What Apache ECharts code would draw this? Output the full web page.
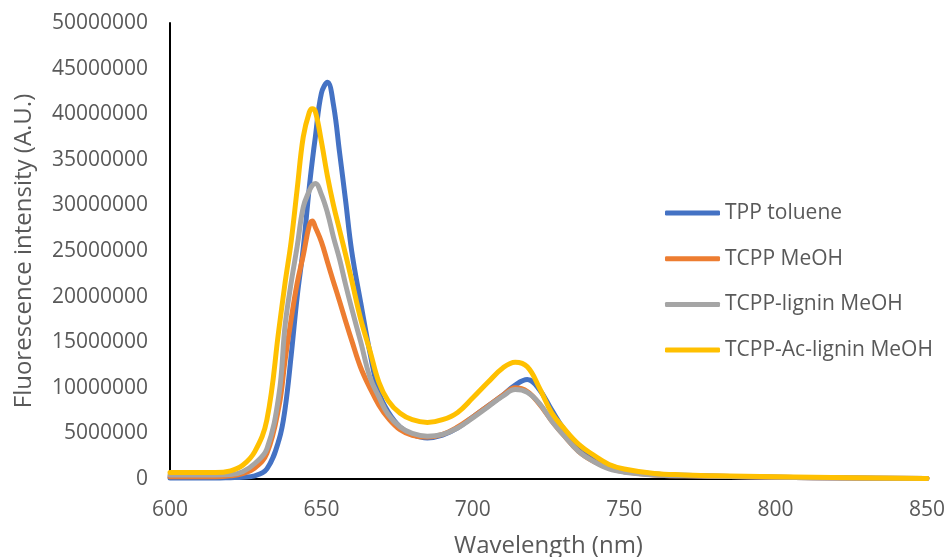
<!DOCTYPE html>
<html>
<head>
<meta charset="utf-8">
<script src="https://cdn.jsdelivr.net/npm/echarts@6/dist/echarts.min.js"></script>
<style>
html,body{margin:0;padding:0;background:#fff;}
#chart{width:947px;height:557px;}
</style>
</head>
<body>
<div id="chart"></div>
<script>
// Wavelength grid (nm)
const wavelengths = [600, 610, 615, 620, 624, 628, 632, 636, 638, 640, 642, 644, 646, 647, 648, 650, 652, 654, 656, 658, 660, 663, 666, 669, 672, 676, 680, 685, 690, 695, 700, 705, 710, 714, 718, 722, 726, 730, 735, 740, 745, 750, 760, 770, 780, 800, 825, 850];

// Intensities in millions (A.U.)
const tppToluene = [0.1, 0.1, 0.1, 0.15, 0.2, 0.35, 1.1, 4.3, 7.7, 13.5, 20, 25.3, 32, 34.9, 37.5, 42.3, 43.5, 41, 35.8, 30.5, 25, 19.3, 13.9, 9.5, 7.4, 5.7, 4.9, 4.5, 4.8, 5.6, 6.8, 8.0, 9.2, 10.3, 10.9, 9.8, 7.6, 5.5, 3.6, 2.3, 1.5, 1.0, 0.55, 0.4, 0.3, 0.2, 0.1, 0.05];
const tcppMeOH = [0.25, 0.25, 0.25, 0.35, 0.6, 1.2, 2.8, 8, 13, 17.5, 21.5, 24.5, 27.8, 28.3, 27.6, 26.0, 23.8, 21.6, 19.5, 17.3, 15.2, 12.2, 10.0, 8.1, 6.7, 5.4, 4.8, 4.6, 4.9, 5.7, 6.8, 8.0, 9.2, 10.0, 9.6, 8.2, 6.4, 4.8, 3.0, 1.9, 1.2, 0.8, 0.45, 0.35, 0.3, 0.2, 0.1, 0.05];
const tcppLigninMeOH = [0.45, 0.45, 0.45, 0.5, 0.8, 1.7, 3.3, 9.3, 16.8, 21.5, 25.5, 29.8, 31.6, 32.2, 32.4, 31.2, 29.2, 26.5, 24.1, 21.3, 18.7, 15.0, 11.2, 9.0, 7.1, 5.7, 5.0, 4.7, 4.9, 5.6, 6.7, 7.9, 9.1, 9.8, 9.5, 8.3, 6.4, 4.8, 3.0, 1.9, 1.1, 0.75, 0.45, 0.35, 0.3, 0.2, 0.1, 0.05];
const tcppAcLigninMeOH = [0.7, 0.7, 0.7, 0.9, 1.5, 3.0, 6.5, 16.5, 21.5, 26, 31.8, 37.5, 40.2, 40.6, 40.3, 37, 33.2, 30, 27.3, 24.6, 21.8, 17.5, 14.1, 10.6, 8.6, 7.2, 6.5, 6.2, 6.5, 7.3, 8.9, 10.6, 12.2, 12.8, 12.3, 10.0, 7.3, 5.6, 3.8, 2.6, 1.6, 1.1, 0.6, 0.45, 0.35, 0.25, 0.15, 0.05];

const seriesNames = ['TPP toluene', 'TCPP MeOH', 'TCPP-lignin MeOH', 'TCPP-Ac-lignin MeOH'];
const seriesValues = [tppToluene, tcppMeOH, tcppLigninMeOH, tcppAcLigninMeOH];
const colors = ['#4472C4', '#ED7D31', '#A5A5A5', '#FFC000'];

const xMin = 600, xMax = 850, xStep = 50;
const yMin = 0, yMax = 50000000, yStep = 5000000;

const chart = echarts.init(document.getElementById('chart'), null, {renderer: 'canvas'});
const font = '"Open Sans", "Noto Sans", sans-serif';

chart.setOption({
  backgroundColor: '#ffffff',
  animation: false,
  color: colors,
  grid: {left: 170, right: 20, top: 23, bottom: 78, containLabel: false, outerBoundsMode: 'none'},
  legend: {
    orient: 'vertical',
    left: 665,
    top: 201,
    padding: 0,
    icon: 'roundRect',
    itemWidth: 55,
    itemHeight: 5,
    itemGap: 21.7,
    data: seriesNames,
    textStyle: {color: '#595959', fontSize: 21, fontFamily: font, lineHeight: 24}
  },
  xAxis: {
    type: 'value',
    min: xMin, max: xMax, interval: xStep,
    name: 'Wavelength (nm)',
    nameLocation: 'middle',
    nameGap: 55,
    nameTextStyle: {color: '#595959', fontSize: 24, fontFamily: font},
    axisLine: {show: true, lineStyle: {color: '#000000', width: 2}},
    axisTick: {show: false},
    splitLine: {show: false},
    axisLabel: {color: '#595959', fontSize: 21, fontFamily: font, margin: 21}
  },
  yAxis: {
    type: 'value',
    min: yMin, max: yMax, interval: yStep,
    name: 'Fluorescence intensity (A.U.)',
    nameLocation: 'middle',
    nameGap: 134,
    nameTextStyle: {color: '#595959', fontSize: 24, fontFamily: font},
    axisLine: {show: true, onZero: false, lineStyle: {color: '#000000', width: 2}},
    axisTick: {show: false},
    splitLine: {show: false},
    axisLabel: {color: '#595959', fontSize: 21, fontFamily: font, margin: 22, formatter: v => String(v)}
  },
  series: seriesNames.map((name, i) => ({
    name: name,
    type: 'line',
    data: wavelengths.map((w, j) => [w, seriesValues[i][j] * 1000000]),
    showSymbol: false,
    smooth: 0.4,
    sampling: 'none',
    lineStyle: {width: 5, color: colors[i], cap: 'round', join: 'round'},
    itemStyle: {color: colors[i]},
    z: 2 + i
  }))
});
</script>
</body>
</html>
